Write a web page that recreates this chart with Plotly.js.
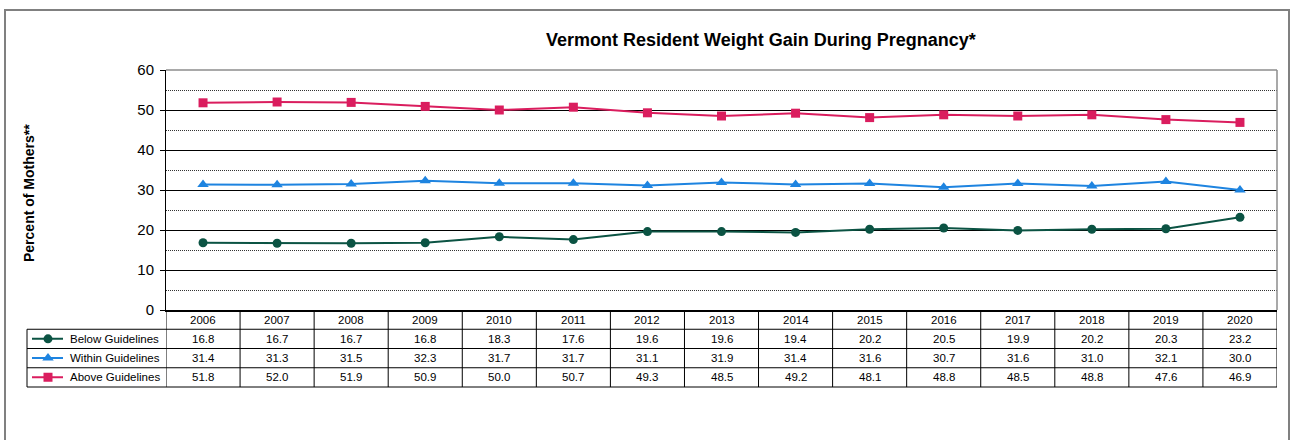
<!DOCTYPE html>
<html>
<head>
<meta charset="utf-8">
<script src="https://cdn.plot.ly/plotly-3.0.1.min.js"></script>
<style>html,body{margin:0;padding:0;background:#fff}#chart{width:1291px;height:440px}</style>
</head>
<body>
<div id="chart"></div>
<script>
const years = ["2006","2007","2008","2009","2010","2011","2012","2013","2014","2015","2016","2017","2018","2019","2020"];
const seriesNames = ["Below Guidelines","Within Guidelines","Above Guidelines"];
const below = [16.8,16.7,16.7,16.8,18.3,17.6,19.6,19.6,19.4,20.2,20.5,19.9,20.2,20.3,23.2];
const within = [31.4,31.3,31.5,32.3,31.7,31.7,31.1,31.9,31.4,31.6,30.7,31.6,31.0,32.1,30.0];
const above = [51.8,52.0,51.9,50.9,50.0,50.7,49.3,48.5,49.2,48.1,48.8,48.5,48.8,47.6,46.9];
const titleText = "Vermont Resident Weight Gain During Pregnancy*";
const yTitleText = "Percent of Mothers**";

const W = 1291, H = 440;
const FONT = "Liberation Sans, Arial, sans-serif";
const colors = ["#0B5343", "#1E84E0", "#DA1D5E"];
const symbols = ["circle", "triangle-up", "square"];
const msizes = [9, 10, 9];
const seriesVals = [below, within, above];
const TFS = 11.5;

// pixel helpers for layout geometry
const px = x => x / W;
const py = y => 1 - y / H;
const plotL = 166, plotR = 1277, plotT = 70, plotB = 310;
const tabL = 27;
const rowEdges = [310, 329.25, 348.5, 367.75, 387];

const xIdx = years.map((_, i) => i);

const traces = seriesVals.map((vals, k) => ({
  type: "scatter", mode: "lines+markers",
  x: xIdx, y: vals, name: seriesNames[k],
  line: {color: colors[k], width: 2},
  marker: {symbol: symbols[k], size: msizes[k], color: colors[k]},
  xaxis: "x", yaxis: "y", showlegend: false, hoverinfo: "skip"
}));
// legend keys inside table
seriesVals.forEach((vals, k) => {
  const yr = 2.5 - k;
  traces.push({
    type: "scatter", mode: "lines", x: [5, 36], y: [yr, yr],
    line: {color: colors[k], width: 2}, xaxis: "x2", yaxis: "y2", showlegend: false, hoverinfo: "skip"
  });
  traces.push({
    type: "scatter", mode: "markers", x: [21], y: [yr],
    marker: {symbol: symbols[k], size: msizes[k], color: colors[k]},
    xaxis: "x2", yaxis: "y2", showlegend: false, hoverinfo: "skip"
  });
});

const shapes = [];
const annotations = [];
// outer frame
shapes.push({type: "rect", xref: "paper", yref: "paper", x0: px(5), x1: px(1289), y0: py(470), y1: py(10),
  line: {color: "#808080", width: 2}, layer: "below"});
// plot border top and right (gray)
shapes.push({type: "line", xref: "paper", yref: "paper", x0: px(plotL), x1: px(plotR), y0: py(plotT), y1: py(plotT), line: {color: "#8c8c8c", width: 1.5}});
shapes.push({type: "line", xref: "paper", yref: "paper", x0: px(plotR), x1: px(plotR), y0: py(plotT), y1: py(plotB), line: {color: "#8c8c8c", width: 1.5}});
// table vertical column lines
for (let i = -1; i < years.length; i++) {
  shapes.push({type: "line", xref: "x", yref: "paper", x0: i + 0.5, x1: i + 0.5, y0: py(rowEdges[0]), y1: py(rowEdges[4]), line: {color: "#000", width: 1}});
}
// left column box vertical
shapes.push({type: "line", xref: "paper", yref: "paper", x0: px(tabL), x1: px(tabL), y0: py(rowEdges[1]), y1: py(rowEdges[4]), line: {color: "#000", width: 1}});
// horizontal table lines
for (let r = 1; r < rowEdges.length; r++) {
  shapes.push({type: "line", xref: "paper", yref: "paper", x0: px(tabL), x1: px(plotR), y0: py(rowEdges[r]), y1: py(rowEdges[r]), line: {color: "#000", width: 1}});
}
// year header labels
years.forEach((y, i) => {
  annotations.push({xref: "x", yref: "paper", x: i, y: py((rowEdges[0] + rowEdges[1]) / 2), text: y, showarrow: false,
    font: {family: FONT, size: TFS, color: "#000"}, xanchor: "center", yanchor: "middle"});
});
// values
seriesVals.forEach((vals, k) => {
  const yc = py((rowEdges[k + 1] + rowEdges[k + 2]) / 2);
  vals.forEach((v, i) => {
    annotations.push({xref: "x", yref: "paper", x: i, y: yc, text: v.toFixed(1), showarrow: false,
      font: {family: FONT, size: TFS, color: "#000"}, xanchor: "center", yanchor: "middle"});
  });
  annotations.push({xref: "paper", yref: "paper", x: px(tabL + 41), y: yc, text: seriesNames[k], showarrow: false,
    font: {family: FONT, size: TFS, color: "#000"}, xanchor: "left", yanchor: "middle"});
});
// title
annotations.push({xref: "paper", yref: "paper", x: px(761), y: py(40), text: "<b>" + titleText + "</b>", showarrow: false,
  font: {family: FONT, size: 18, color: "#000"}, xanchor: "center", yanchor: "middle"});
// y title
annotations.push({xref: "paper", yref: "paper", x: px(29), y: py(193), text: "<b>" + yTitleText + "</b>", showarrow: false,
  textangle: -90, font: {family: FONT, size: 14, color: "#000"}, xanchor: "center", yanchor: "middle"});

const layout = {
  width: W, height: H,
  margin: {l: 0, r: 0, t: 0, b: 0, pad: 0},
  paper_bgcolor: "#fff", plot_bgcolor: "#fff",
  showlegend: false,
  xaxis: {domain: [px(plotL), px(plotR)], range: [-0.5, years.length - 0.5], showticklabels: false, ticks: "",
    showgrid: false, zeroline: false, showline: true, linecolor: "#000", linewidth: 2, fixedrange: true, automargin: false},
  yaxis: {domain: [py(plotB), py(plotT)], range: [0, 60], dtick: 10, tick0: 0, showgrid: true, gridcolor: "#000", gridwidth: 1,
    zeroline: false, showline: true, linecolor: "#000", linewidth: 1, ticks: "outside", ticklen: 5, tickcolor: "#000",
    ticklabelstandoff: 3,
    tickfont: {family: FONT, size: 15, color: "#000"}, automargin: false, fixedrange: true,
    minor: {dtick: 5, showgrid: true, gridcolor: "#333", griddash: "1px,1px", gridwidth: 1, ticks: ""}},
  xaxis2: {domain: [px(tabL), px(plotL)], range: [0, plotL - tabL], visible: false, fixedrange: true, anchor: "y2"},
  yaxis2: {domain: [py(rowEdges[4]), py(rowEdges[1])], range: [0, 3], visible: false, fixedrange: true, anchor: "x2"},
  shapes: shapes,
  annotations: annotations
};

Plotly.newPlot("chart", traces, layout, {displayModeBar: false, staticPlot: true});
</script>
</body>
</html>
